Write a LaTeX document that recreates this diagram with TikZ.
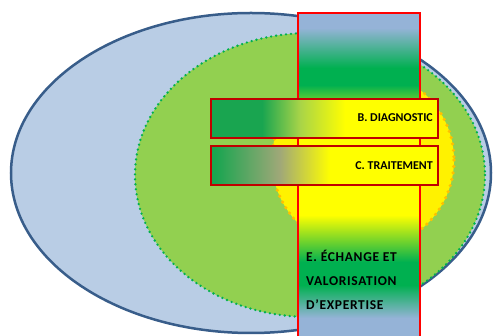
\documentclass[tikz,border=0pt]{standalone}
\usepackage{fontspec}
\setmainfont{Carlito}
\definecolor{outerfill}{HTML}{B9CDE5}
\definecolor{outerline}{HTML}{385D8A}
\definecolor{greenfill}{HTML}{92D050}
\definecolor{greendot}{HTML}{00B050}
\definecolor{orangedot}{HTML}{FFC000}
\definecolor{colblue}{HTML}{95B3D7}
\definecolor{colgreen}{HTML}{00B050}
\definecolor{rectgreen}{HTML}{19A550}
\definecolor{rectlime}{HTML}{A8D448}
\definecolor{rectgray}{HTML}{A0A878}
\definecolor{darkred}{HTML}{C00000}
\definecolor{brightred}{HTML}{FF0000}
\pgfdeclareverticalshading{colshade}{100bp}{color(0bp)=(colblue); color(28.36bp)=(colblue); color(33.41bp)=(colgreen); color(36.93bp)=(colgreen); color(44.11bp)=(yellow); color(57.87bp)=(yellow); color(63.99bp)=(colgreen); color(66.59bp)=(colgreen); color(72.71bp)=(colblue); color(100bp)=(colblue)}
\pgfdeclarehorizontalshading{bshade}{100bp}{color(0bp)=(rectgreen); color(36.23bp)=(rectgreen); color(44.6bp)=(rectlime); color(54.5bp)=(yellow); color(100bp)=(yellow)}
\pgfdeclarehorizontalshading{cshade}{100bp}{color(0bp)=(rectgreen); color(25.9bp)=(rectgreen); color(40.2bp)=(rectgray); color(51.2bp)=(yellow); color(100bp)=(yellow)}
\tikzset{
  outerstyle/.style={fill=outerfill, draw=outerline, line width=2.5pt},
  greenstyle/.style={fill=greenfill, draw=greendot, line width=2.6pt, dash pattern=on 0pt off 5pt, line cap=round},
  yellowstyle/.style={fill=yellow, draw=orangedot, line width=3.6pt, dash pattern=on 0pt off 6.5pt, line cap=round},
  colborder/.style={draw=brightred, line width=2pt},
  rectborder/.style={draw=darkred, line width=2.5pt},
  lbl/.style={font=\fontsize{12}{14}\selectfont\bfseries, inner sep=0pt, text=black},
  elbl/.style={font=\fontsize{13.5}{16}\selectfont\bfseries\addfontfeature{LetterSpace=5}, inner sep=0pt, text=black, anchor=base west}
}
\begin{document}
\begin{tikzpicture}[x=1pt,y=-1pt]
\clip (0,0) rectangle (493,336);
\fill[white] (0,0) rectangle (493,336);
\draw[outerstyle] (251,173) ellipse [x radius=240, y radius=160];
\draw[greenstyle] (310,175) ellipse [x radius=175, y radius=142];
\draw[yellowstyle] (363,160) ellipse [x radius=91, y radius=90];
\shade[shading=colshade] (298,13) rectangle (420,340);
\draw[colborder] (298,345) -- (298,13) -- (420,13) -- (420,345);
\shade[shading=bshade] (211,99) rectangle (438,138);
\draw[rectborder] (211,99) rectangle (438,138);
\shade[shading=cshade] (211,146) rectangle (438,185);
\draw[rectborder] (211,146) rectangle (438,185);
\node[lbl, anchor=east] (btext) at (433,118) {B. DIAGNOSTIC};
\node[lbl, anchor=east] (ctext) at (433,166) {C. TRAITEMENT};
\node[elbl] (e1) at (306,262) {E. ÉCHANGE ET};
\node[elbl] (e2) at (306,286) {VALORISATION};
\node[elbl] (e3) at (306,310) {D'EXPERTISE};
\end{tikzpicture}
\end{document}
